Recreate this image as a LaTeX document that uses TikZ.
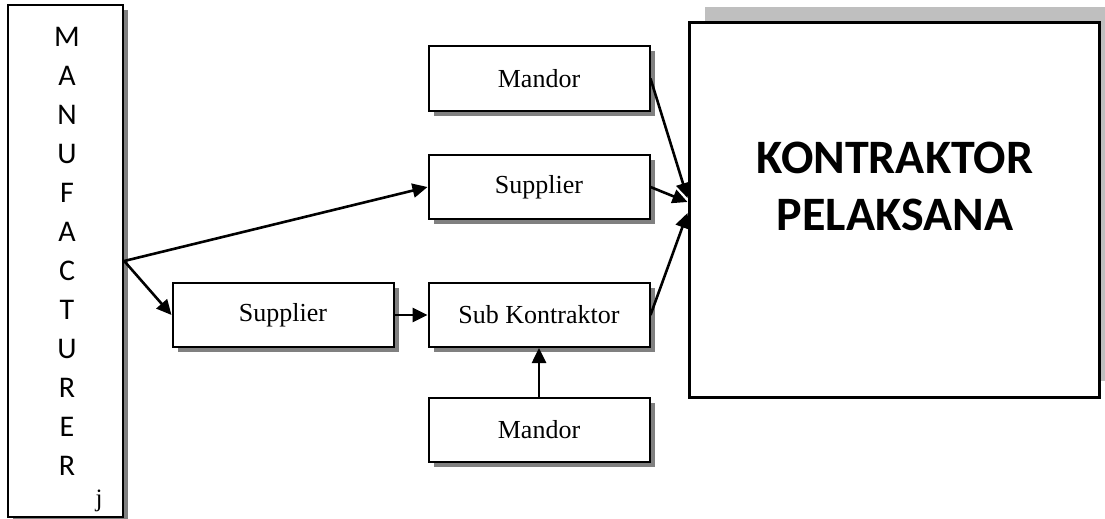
\documentclass[tikz,border=0pt]{standalone}
\usepackage{fontspec}
\setmainfont{Liberation Serif}
\newfontfamily\calibri{Carlito}
\usepackage{tikz}
\usetikzlibrary{shadows}
\usetikzlibrary{positioning}
\usetikzlibrary{arrows.meta,shapes}
\tikzstyle{block}=[rectangle,draw,fill=white,line width=2pt,minimum width=221pt,minimum height=64pt,inner sep=0pt,font=\fontsize{26}{30}\selectfont,drop shadow={shadow xshift=5pt,shadow yshift=-5pt,fill=black!50,opacity=1}]
\tikzstyle{edge} = [draw,line width=2.6pt,-{Triangle[length=15pt,width=14pt]}]
\tikzstyle{letter} = [font=\calibri\fontsize{30}{35}\selectfont,inner sep=0pt]

\begin{document}
\begin{tikzpicture}[x=1pt,y=-1pt]
    \useasboundingbox (0,0) rectangle (1105,519);
    % The manufacturer column, spelled top to bottom
    \node[rectangle,draw,fill=white,line width=2.4pt,minimum width=115pt,minimum height=512pt,
          drop shadow={shadow xshift=5pt,shadow yshift=-5pt,fill=black!50,opacity=1}] (manufacturer) at (65.5,261) {};
    \foreach \ch [count=\i from 0] in {M,A,N,U,F,A,C,T,U,R,E,R}
        \node[letter] (ch\i) at (67,37+39*\i) {\ch};
    \node[font=\fontsize{25}{30}\selectfont,inner sep=0pt] (jmark) at (99,501) {j};

    % The main contractor
    \node[rectangle,draw,fill=white,line width=3pt,minimum width=410pt,minimum height=374pt,
          drop shadow={shadow xshift=16pt,shadow yshift=16pt,fill=black!25,opacity=1}] (kontraktor) at (894,210) {};
    \node[font=\calibri\bfseries\fontsize{48}{57}\selectfont,align=center] (kontraktorlabel) at (895,186.5) {KONTRAKTOR\\PELAKSANA};

    % Then the small boxes
    \foreach \pos/\name/\label in {{(539,78.5)/mandorA/Mandor}, {(539,187)/supplierA/Supplier},
    {(283,315)/supplierB/Supplier}, {(539,315)/sub/Sub Kontraktor}, {(539,430)/mandorB/Mandor}}
        \node[block] (\name) at \pos {\label};

    % Connect them
    \foreach \source/\dest in {manufacturer.east/supplierA.west, manufacturer.east/supplierB.west,
    supplierB.east/sub.west, mandorB.north/sub.south}
        \path[edge] (\source) -- (\dest);
    \path[edge] (mandorA.east) -- ([yshift=12pt]kontraktor.west);
    \path[edge] (supplierA.east) -- ([yshift=8pt]kontraktor.west);
    \path[edge] (sub.east) -- ([yshift=-3pt]kontraktor.west);
\end{tikzpicture}
\end{document}
